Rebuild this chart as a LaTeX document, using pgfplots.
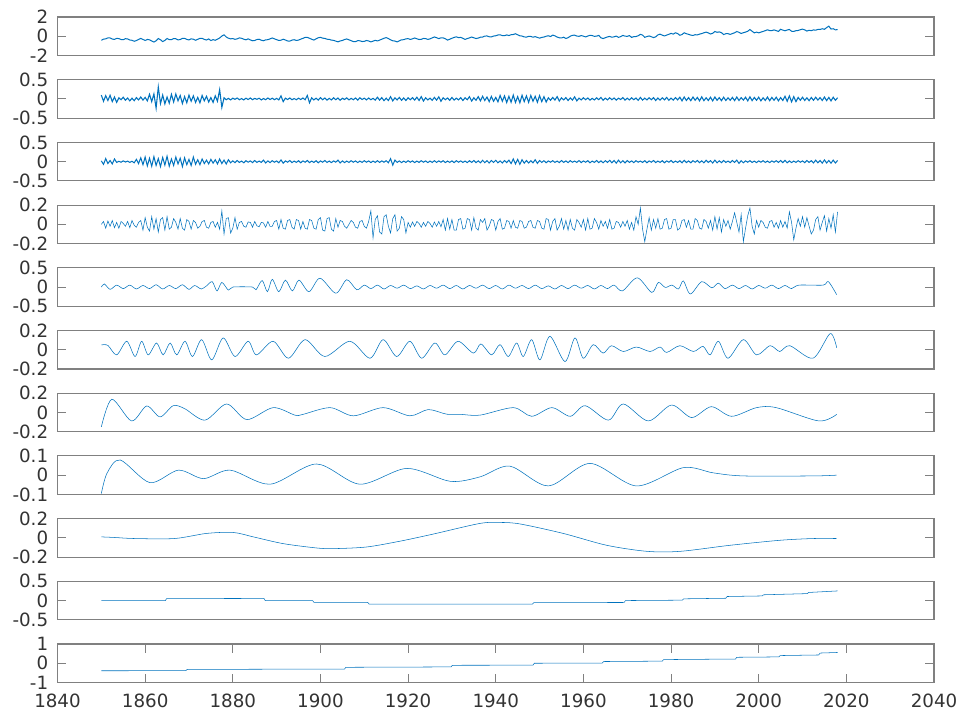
\documentclass[border=0pt]{standalone}
\usepackage{fontspec}
\setmainfont{DejaVu Sans}
\usepackage{pgfplots}
\pgfplotsset{compat=1.18}
\definecolor{mline}{RGB}{0,114,189}
\definecolor{axgray}{gray}{0.5}
\definecolor{txtgray}{gray}{0.2}
\newlength\pxu
\setlength\pxu{0.75pt}
\pgfplotsset{
 emd/.style={
   scale only axis, width=876.5\pxu, height=38.5\pxu,
   xmin=1840, xmax=2040, anchor=north west,
   axis line style={axgray, line width=0.8pt},
   tick style={axgray, line width=0.8pt},
   major tick length=6.5pt, tick align=inside,
   xtick=\empty,
   yticklabel style={font=\fontsize{13.7}{16}\selectfont, text=txtgray, inner sep=0pt, anchor=east, xshift=-6.8pt},
   xticklabel style={font=\fontsize{13.7}{16}\selectfont, text=txtgray, inner sep=0pt, anchor=north, yshift=-8.5pt},
   cycle list={{mline, mark=none, line width=0.55pt}},
 }
}
\begin{document}
\begin{tikzpicture}
\path[use as bounding box] (0,0) rectangle (960\pxu,-713\pxu);
% 1 original
\begin{axis}[emd, at={(57.5\pxu,-17\pxu)}, ymin=-2, ymax=2, ytick={-2,0,2}, yticklabels={-2,0,2}]
\addplot+[line width=0.75pt] coordinates {(1850,-0.42)(1850.5,-0.30)(1851,-0.27)(1851.5,-0.17)(1852,-0.18)(1852.5,-0.29)(1853,-0.33)(1853.5,-0.22)(1854,-0.24)(1854.5,-0.34)(1855,-0.36)(1855.5,-0.25)(1856,-0.28)(1856.5,-0.39)(1857,-0.42)(1857.5,-0.52)(1858,-0.45)(1858.5,-0.33)(1859,-0.22)(1859.5,-0.33)(1860,-0.44)(1860.5,-0.33)(1861,-0.37)(1861.5,-0.49)(1862,-0.60)(1862.5,-0.47)(1863,-0.24)(1863.5,-0.36)(1864,-0.56)(1864.5,-0.43)(1865,-0.23)(1865.5,-0.35)(1866,-0.36)(1866.5,-0.24)(1867,-0.26)(1867.5,-0.38)(1868,-0.34)(1868.5,-0.22)(1869,-0.22)(1869.5,-0.33)(1870,-0.38)(1870.5,-0.27)(1871,-0.31)(1871.5,-0.42)(1872,-0.32)(1872.5,-0.21)(1873,-0.21)(1873.5,-0.33)(1874,-0.39)(1874.5,-0.28)(1875,-0.45)(1875.5,-0.35)(1876,-0.42)(1876.5,-0.30)(1877,-0.18)(1877.5,0.02)(1878,0.15)(1878.5,-0.08)(1879,-0.20)(1879.5,-0.27)(1880,-0.24)(1880.5,-0.32)(1881,-0.27)(1881.5,-0.17)(1882,-0.21)(1882.5,-0.31)(1883,-0.37)(1883.5,-0.27)(1884,-0.38)(1884.5,-0.47)(1885,-0.44)(1885.5,-0.34)(1886,-0.31)(1886.5,-0.41)(1887,-0.47)(1887.5,-0.37)(1888,-0.36)(1888.5,-0.27)(1889,-0.18)(1889.5,-0.27)(1890,-0.35)(1890.5,-0.44)(1891,-0.41)(1891.5,-0.31)(1892,-0.39)(1892.5,-0.49)(1893,-0.51)(1893.5,-0.40)(1894,-0.36)(1894.5,-0.44)(1895,-0.40)(1895.5,-0.30)(1896,-0.22)(1896.5,-0.12)(1897,-0.12)(1897.5,-0.21)(1898,-0.31)(1898.5,-0.40)(1899,-0.27)(1899.5,-0.16)(1900,-0.11)(1900.5,-0.20)(1901,-0.22)(1901.5,-0.31)(1902,-0.32)(1902.5,-0.41)(1903,-0.42)(1903.5,-0.51)(1904,-0.58)(1904.5,-0.49)(1905,-0.44)(1905.5,-0.34)(1906,-0.28)(1906.5,-0.37)(1907,-0.46)(1907.5,-0.55)(1908,-0.56)(1908.5,-0.46)(1909,-0.47)(1909.5,-0.55)(1910,-0.53)(1910.5,-0.44)(1911,-0.49)(1911.5,-0.59)(1912,-0.51)(1912.5,-0.42)(1913,-0.49)(1913.5,-0.40)(1914,-0.31)(1914.5,-0.21)(1915,-0.14)(1915.5,-0.24)(1916,-0.37)(1916.5,-0.47)(1917,-0.50)(1917.5,-0.59)(1918,-0.47)(1918.5,-0.37)(1919,-0.36)(1919.5,-0.27)(1920,-0.25)(1920.5,-0.33)(1921,-0.27)(1921.5,-0.18)(1922,-0.26)(1922.5,-0.34)(1923,-0.32)(1923.5,-0.23)(1924,-0.24)(1924.5,-0.33)(1925,-0.27)(1925.5,-0.17)(1926,-0.07)(1926.5,-0.15)(1927,-0.25)(1927.5,-0.16)(1928,-0.17)(1928.5,-0.26)(1929,-0.40)(1929.5,-0.31)(1930,-0.21)(1930.5,-0.12)(1931,-0.06)(1931.5,-0.14)(1932,-0.12)(1932.5,-0.21)(1933,-0.33)(1933.5,-0.24)(1934,-0.17)(1934.5,-0.08)(1935,-0.16)(1935.5,-0.24)(1936,-0.19)(1936.5,-0.10)(1937,-0.08)(1937.5,0.02)(1938,0.03)(1938.5,-0.05)(1939,-0.07)(1939.5,0.02)(1940,0.05)(1940.5,0.13)(1941,0.15)(1941.5,0.07)(1942,0.06)(1942.5,0.14)(1943,0.07)(1943.5,0.16)(1944,0.18)(1944.5,0.26)(1945,0.15)(1945.5,0.05)(1946,0.02)(1946.5,-0.07)(1947,-0.09)(1947.5,-0.01)(1948,-0.02)(1948.5,-0.10)(1949,-0.04)(1949.5,-0.12)(1950,-0.20)(1950.5,-0.12)(1951,-0.08)(1951.5,0.00)(1952,0.05)(1952.5,-0.03)(1953,0.12)(1953.5,0.04)(1954,-0.08)(1954.5,-0.16)(1955,-0.18)(1955.5,-0.10)(1956,-0.23)(1956.5,-0.15)(1957,0.00)(1957.5,0.10)(1958,0.11)(1958.5,0.02)(1959,-0.01)(1959.5,0.07)(1960,0.01)(1960.5,-0.07)(1961,0.02)(1961.5,0.10)(1962,0.07)(1962.5,-0.01)(1963,0.01)(1963.5,0.09)(1964,-0.16)(1964.5,-0.24)(1965,-0.15)(1965.5,-0.07)(1966,-0.02)(1966.5,-0.10)(1967,-0.06)(1967.5,0.02)(1968,-0.12)(1968.5,-0.04)(1969,0.09)(1969.5,0.01)(1970,-0.01)(1970.5,0.07)(1971,-0.12)(1971.5,-0.04)(1972,-0.03)(1972.5,0.05)(1973,0.20)(1973.5,0.12)(1974,-0.11)(1974.5,-0.03)(1975,0.03)(1975.5,-0.05)(1976,-0.14)(1976.5,-0.06)(1977,0.14)(1977.5,0.22)(1978,0.11)(1978.5,0.03)(1979,0.12)(1979.5,0.20)(1980,0.30)(1980.5,0.22)(1981,0.36)(1981.5,0.28)(1982,0.10)(1982.5,0.18)(1983,0.36)(1983.5,0.26)(1984,0.20)(1984.5,0.12)(1985,0.08)(1985.5,0.16)(1986,0.14)(1986.5,0.22)(1987,0.28)(1987.5,0.36)(1988,0.43)(1988.5,0.35)(1989,0.23)(1989.5,0.31)(1990,0.49)(1990.5,0.41)(1991,0.45)(1991.5,0.37)(1992,0.18)(1992.5,0.26)(1993,0.27)(1993.5,0.19)(1994,0.28)(1994.5,0.36)(1995,0.49)(1995.5,0.41)(1996,0.29)(1996.5,0.37)(1997,0.43)(1997.5,0.52)(1998,0.70)(1998.5,0.52)(1999,0.35)(1999.5,0.43)(2000,0.35)(2000.5,0.43)(2001,0.50)(2001.5,0.58)(2002,0.67)(2002.5,0.59)(2003,0.58)(2003.5,0.66)(2004,0.58)(2004.5,0.50)(2005,0.72)(2005.5,0.64)(2006,0.57)(2006.5,0.65)(2007,0.70)(2007.5,0.52)(2008,0.50)(2008.5,0.58)(2009,0.60)(2009.5,0.68)(2010,0.74)(2010.5,0.66)(2011,0.54)(2011.5,0.62)(2012,0.58)(2012.5,0.66)(2013,0.63)(2013.5,0.71)(2014,0.70)(2014.5,0.78)(2015,0.72)(2015.5,0.90)(2016,1.05)(2016.5,0.75)(2017,0.78)(2017.5,0.66)(2018,0.70)};
\end{axis}
% 2 IMF1
\begin{axis}[emd, at={(57.5\pxu,-79.7\pxu)}, ymin=-0.5, ymax=0.5, ytick={-0.5,0,0.5}, yticklabels={-0.5,0,0.5}]
\addplot+[line width=0.8pt] coordinates {(1850,0.10)(1850.5,-0.06)(1851,0.085)(1851.5,-0.04)(1852,0.095)(1852.5,-0.07)(1853,0.05)(1853.5,-0.09)(1854,0.03)(1854.5,-0.02)(1855,0.045)(1855.5,-0.035)(1856,0.025)(1856.5,-0.05)(1857,0.02)(1857.5,-0.045)(1858,0.035)(1858.5,-0.025)(1859,0.05)(1859.5,-0.03)(1860,0.04)(1860.5,-0.05)(1861,0.12)(1861.5,-0.07)(1862,0.13)(1862.5,-0.24)(1863,0.31)(1863.5,-0.12)(1864,0.10)(1864.5,-0.13)(1865,0.05)(1865.5,-0.11)(1866,0.12)(1866.5,-0.08)(1867,0.13)(1867.5,-0.05)(1868,0.09)(1868.5,-0.12)(1869,0.06)(1869.5,-0.10)(1870,0.10)(1870.5,-0.06)(1871,0.08)(1871.5,-0.09)(1872,0.04)(1872.5,-0.10)(1873,0.09)(1873.5,-0.05)(1874,0.07)(1874.5,-0.08)(1875,0.035)(1875.5,-0.09)(1876,0.08)(1876.5,-0.06)(1877,0.24)(1877.5,-0.22)(1878,0.03)(1878.5,-0.02)(1879,0.015)(1879.5,-0.025)(1880,0.02)(1880.5,-0.01)(1881,0.025)(1881.5,-0.02)(1882,0.01)(1882.5,-0.025)(1883,0.02)(1883.5,-0.015)(1884,0.025)(1884.5,-0.02)(1885,0.015)(1885.5,-0.01)(1886,0.02)(1886.5,-0.025)(1887,0.01)(1887.5,-0.02)(1888,0.025)(1888.5,-0.015)(1889,0.02)(1889.5,-0.02)(1890,0.015)(1890.5,-0.025)(1891,0.08)(1891.5,-0.07)(1892,0.02)(1892.5,-0.015)(1893,0.025)(1893.5,-0.02)(1894,0.01)(1894.5,-0.02)(1895,0.02)(1895.5,-0.015)(1896,0.025)(1896.5,-0.02)(1897,0.09)(1897.5,-0.10)(1898,0.03)(1898.5,-0.025)(1899,0.02)(1899.5,-0.03)(1900,0.035)(1900.5,-0.02)(1901,0.025)(1901.5,-0.03)(1902,0.015)(1902.5,-0.025)(1903,0.03)(1903.5,-0.02)(1904,0.025)(1904.5,-0.035)(1905,0.02)(1905.5,-0.015)(1906,0.03)(1906.5,-0.025)(1907,0.015)(1907.5,-0.02)(1908,0.025)(1908.5,-0.03)(1909,0.03)(1909.5,-0.015)(1910,0.02)(1910.5,-0.025)(1911,0.025)(1911.5,-0.02)(1912,0.015)(1912.5,-0.03)(1913,0.045)(1913.5,-0.03)(1914,0.035)(1914.5,-0.045)(1915,0.02)(1915.5,-0.04)(1916,0.06)(1916.5,-0.05)(1917,0.03)(1917.5,-0.025)(1918,0.04)(1918.5,-0.035)(1919,0.025)(1919.5,-0.04)(1920,0.03)(1920.5,-0.02)(1921,0.035)(1921.5,-0.03)(1922,0.045)(1922.5,-0.04)(1923,0.06)(1923.5,-0.055)(1924,0.03)(1924.5,-0.025)(1925,0.02)(1925.5,-0.035)(1926,0.04)(1926.5,-0.03)(1927,0.055)(1927.5,-0.06)(1928,0.03)(1928.5,-0.02)(1929,0.025)(1929.5,-0.035)(1930,0.04)(1930.5,-0.03)(1931,0.02)(1931.5,-0.025)(1932,0.035)(1932.5,-0.04)(1933,0.03)(1933.5,-0.02)(1934,0.06)(1934.5,-0.055)(1935,0.03)(1935.5,-0.035)(1936,0.06)(1936.5,-0.05)(1937,0.07)(1937.5,-0.04)(1938,0.05)(1938.5,-0.07)(1939,0.065)(1939.5,-0.06)(1940,0.04)(1940.5,-0.075)(1941,0.09)(1941.5,-0.06)(1942,0.08)(1942.5,-0.095)(1943,0.07)(1943.5,-0.085)(1944,0.10)(1944.5,-0.09)(1945,0.06)(1945.5,-0.10)(1946,0.095)(1946.5,-0.07)(1947,0.08)(1947.5,-0.09)(1948,0.09)(1948.5,-0.06)(1949,0.07)(1949.5,-0.085)(1950,0.085)(1950.5,-0.07)(1951,0.06)(1951.5,-0.08)(1952,0.03)(1952.5,-0.035)(1953,0.04)(1953.5,-0.03)(1954,0.06)(1954.5,-0.055)(1955,0.03)(1955.5,-0.025)(1956,0.035)(1956.5,-0.04)(1957,0.025)(1957.5,-0.03)(1958,0.055)(1958.5,-0.05)(1959,0.02)(1959.5,-0.025)(1960,0.03)(1960.5,-0.02)(1961,0.025)(1961.5,-0.03)(1962,0.015)(1962.5,-0.025)(1963,0.03)(1963.5,-0.02)(1964,0.04)(1964.5,-0.035)(1965,0.02)(1965.5,-0.025)(1966,0.03)(1966.5,-0.02)(1967,0.025)(1967.5,-0.03)(1968,0.02)(1968.5,-0.015)(1969,0.035)(1969.5,-0.03)(1970,0.02)(1970.5,-0.025)(1971,0.03)(1971.5,-0.02)(1972,0.025)(1972.5,-0.035)(1973,0.04)(1973.5,-0.03)(1974,0.02)(1974.5,-0.025)(1975,0.03)(1975.5,-0.02)(1976,0.035)(1976.5,-0.04)(1977,0.025)(1977.5,-0.03)(1978,0.03)(1978.5,-0.025)(1979,0.04)(1979.5,-0.035)(1980,0.02)(1980.5,-0.03)(1981,0.035)(1981.5,-0.025)(1982,0.045)(1982.5,-0.05)(1983,0.05)(1983.5,-0.04)(1984,0.035)(1984.5,-0.045)(1985,0.05)(1985.5,-0.035)(1986,0.04)(1986.5,-0.05)(1987,0.055)(1987.5,-0.045)(1988,0.03)(1988.5,-0.04)(1989,0.045)(1989.5,-0.05)(1990,0.05)(1990.5,-0.035)(1991,0.035)(1991.5,-0.045)(1992,0.045)(1992.5,-0.04)(1993,0.03)(1993.5,-0.035)(1994,0.04)(1994.5,-0.045)(1995,0.05)(1995.5,-0.04)(1996,0.035)(1996.5,-0.03)(1997,0.045)(1997.5,-0.05)(1998,0.055)(1998.5,-0.045)(1999,0.04)(1999.5,-0.035)(2000,0.045)(2000.5,-0.05)(2001,0.03)(2001.5,-0.04)(2002,0.05)(2002.5,-0.045)(2003,0.04)(2003.5,-0.035)(2004,0.045)(2004.5,-0.05)(2005,0.035)(2005.5,-0.04)(2006,0.07)(2006.5,-0.06)(2007,0.08)(2007.5,-0.075)(2008,0.06)(2008.5,-0.07)(2009,0.04)(2009.5,-0.035)(2010,0.045)(2010.5,-0.04)(2011,0.03)(2011.5,-0.045)(2012,0.04)(2012.5,-0.035)(2013,0.045)(2013.5,-0.03)(2014,0.035)(2014.5,-0.04)(2015,0.05)(2015.5,-0.045)(2016,0.04)(2016.5,-0.05)(2017,0.045)(2017.5,-0.035)(2018,0.03)};
\end{axis}
% 3 IMF2
\begin{axis}[emd, at={(57.5\pxu,-142.4\pxu)}, ymin=-0.5, ymax=0.5, ytick={-0.5,0,0.5}, yticklabels={-0.5,0,0.5}]
\addplot+[line width=0.75pt] coordinates {(1850,0.02)(1850.5,-0.07)(1851,0.08)(1851.5,-0.05)(1852,0.03)(1852.5,-0.06)(1853,0.07)(1853.5,-0.02)(1854,0.01)(1854.5,-0.015)(1855,0.02)(1855.5,-0.01)(1856,0.015)(1856.5,-0.02)(1857,0.01)(1857.5,-0.03)(1858,0.06)(1858.5,-0.05)(1859,0.10)(1859.5,-0.08)(1860,0.12)(1860.5,-0.11)(1861,0.09)(1861.5,-0.12)(1862,0.13)(1862.5,-0.10)(1863,0.08)(1863.5,-0.13)(1864,0.11)(1864.5,-0.09)(1865,0.14)(1865.5,-0.12)(1866,0.07)(1866.5,-0.10)(1867,0.12)(1867.5,-0.06)(1868,0.09)(1868.5,-0.13)(1869,0.10)(1869.5,-0.08)(1870,0.06)(1870.5,-0.10)(1871,0.12)(1871.5,-0.07)(1872,0.05)(1872.5,-0.08)(1873,0.07)(1873.5,-0.05)(1874,0.04)(1874.5,-0.06)(1875,0.06)(1875.5,-0.04)(1876,0.05)(1876.5,-0.06)(1877,0.07)(1877.5,-0.05)(1878,0.04)(1878.5,-0.06)(1879,0.05)(1879.5,-0.03)(1880,0.02)(1880.5,-0.025)(1881,0.03)(1881.5,-0.02)(1882,0.015)(1882.5,-0.03)(1883,0.025)(1883.5,-0.015)(1884,0.02)(1884.5,-0.025)(1885,0.03)(1885.5,-0.02)(1886,0.015)(1886.5,-0.02)(1887,0.04)(1887.5,-0.035)(1888,0.02)(1888.5,-0.025)(1889,0.025)(1889.5,-0.015)(1890,0.02)(1890.5,-0.03)(1891,0.045)(1891.5,-0.04)(1892,0.02)(1892.5,-0.015)(1893,0.03)(1893.5,-0.025)(1894,0.015)(1894.5,-0.02)(1895,0.025)(1895.5,-0.03)(1896,0.02)(1896.5,-0.015)(1897,0.03)(1897.5,-0.025)(1898,0.015)(1898.5,-0.02)(1899,0.025)(1899.5,-0.03)(1900,0.02)(1900.5,-0.015)(1901,0.03)(1901.5,-0.02)(1902,0.015)(1902.5,-0.025)(1903,0.02)(1903.5,-0.015)(1904,0.04)(1904.5,-0.035)(1905,0.02)(1905.5,-0.025)(1906,0.015)(1906.5,-0.02)(1907,0.025)(1907.5,-0.015)(1908,0.02)(1908.5,-0.025)(1909,0.015)(1909.5,-0.02)(1910,0.025)(1910.5,-0.015)(1911,0.02)(1911.5,-0.025)(1912,0.015)(1912.5,-0.02)(1913,0.025)(1913.5,-0.02)(1914,0.02)(1914.5,-0.015)(1915,0.025)(1915.5,-0.03)(1916,0.08)(1916.5,-0.09)(1917,0.04)(1917.5,-0.02)(1918,0.02)(1918.5,-0.025)(1919,0.015)(1919.5,-0.02)(1920,0.025)(1920.5,-0.015)(1921,0.02)(1921.5,-0.025)(1922,0.015)(1922.5,-0.02)(1923,0.025)(1923.5,-0.015)(1924,0.02)(1924.5,-0.025)(1925,0.015)(1925.5,-0.02)(1926,0.025)(1926.5,-0.02)(1927,0.02)(1927.5,-0.015)(1928,0.025)(1928.5,-0.025)(1929,0.015)(1929.5,-0.02)(1930,0.02)(1930.5,-0.025)(1931,0.025)(1931.5,-0.015)(1932,0.02)(1932.5,-0.02)(1933,0.015)(1933.5,-0.025)(1934,0.025)(1934.5,-0.02)(1935,0.03)(1935.5,-0.025)(1936,0.02)(1936.5,-0.03)(1937,0.035)(1937.5,-0.025)(1938,0.025)(1938.5,-0.035)(1939,0.03)(1939.5,-0.02)(1940,0.035)(1940.5,-0.03)(1941,0.02)(1941.5,-0.035)(1942,0.03)(1942.5,-0.025)(1943,0.04)(1943.5,-0.05)(1944,0.07)(1944.5,-0.06)(1945,0.06)(1945.5,-0.07)(1946,0.05)(1946.5,-0.04)(1947,0.03)(1947.5,-0.035)(1948,0.025)(1948.5,-0.03)(1949,0.05)(1949.5,-0.045)(1950,0.03)(1950.5,-0.02)(1951,0.025)(1951.5,-0.03)(1952,0.02)(1952.5,-0.015)(1953,0.025)(1953.5,-0.02)(1954,0.015)(1954.5,-0.025)(1955,0.03)(1955.5,-0.02)(1956,0.02)(1956.5,-0.025)(1957,0.025)(1957.5,-0.015)(1958,0.015)(1958.5,-0.02)(1959,0.03)(1959.5,-0.025)(1960,0.02)(1960.5,-0.015)(1961,0.025)(1961.5,-0.03)(1962,0.015)(1962.5,-0.02)(1963,0.03)(1963.5,-0.025)(1964,0.02)(1964.5,-0.03)(1965,0.025)(1965.5,-0.02)(1966,0.035)(1966.5,-0.03)(1967,0.03)(1967.5,-0.04)(1968,0.04)(1968.5,-0.03)(1969,0.025)(1969.5,-0.035)(1970,0.03)(1970.5,-0.02)(1971,0.02)(1971.5,-0.025)(1972,0.025)(1972.5,-0.015)(1973,0.015)(1973.5,-0.02)(1974,0.025)(1974.5,-0.03)(1975,0.02)(1975.5,-0.015)(1976,0.03)(1976.5,-0.025)(1977,0.015)(1977.5,-0.02)(1978,0.025)(1978.5,-0.03)(1979,0.02)(1979.5,-0.015)(1980,0.03)(1980.5,-0.025)(1981,0.015)(1981.5,-0.02)(1982,0.025)(1982.5,-0.03)(1983,0.035)(1983.5,-0.025)(1984,0.02)(1984.5,-0.03)(1985,0.025)(1985.5,-0.015)(1986,0.03)(1986.5,-0.025)(1987,0.02)(1987.5,-0.03)(1988,0.035)(1988.5,-0.02)(1989,0.025)(1989.5,-0.035)(1990,0.04)(1990.5,-0.03)(1991,0.02)(1991.5,-0.025)(1992,0.03)(1992.5,-0.02)(1993,0.015)(1993.5,-0.025)(1994,0.03)(1994.5,-0.02)(1995,0.04)(1995.5,-0.045)(1996,0.025)(1996.5,-0.03)(1997,0.02)(1997.5,-0.015)(1998,0.025)(1998.5,-0.02)(1999,0.015)(1999.5,-0.025)(2000,0.02)(2000.5,-0.015)(2001,0.025)(2001.5,-0.02)(2002,0.015)(2002.5,-0.025)(2003,0.02)(2003.5,-0.015)(2004,0.025)(2004.5,-0.02)(2005,0.03)(2005.5,-0.025)(2006,0.035)(2006.5,-0.03)(2007,0.02)(2007.5,-0.025)(2008,0.015)(2008.5,-0.02)(2009,0.025)(2009.5,-0.015)(2010,0.02)(2010.5,-0.025)(2011,0.03)(2011.5,-0.02)(2012,0.025)(2012.5,-0.035)(2013,0.04)(2013.5,-0.03)(2014,0.03)(2014.5,-0.04)(2015,0.045)(2015.5,-0.035)(2016,0.03)(2016.5,-0.04)(2017,0.04)(2017.5,-0.035)(2018,0.03)};
\end{axis}
% 4 IMF3
\begin{axis}[emd, at={(57.5\pxu,-205.1\pxu)}, ymin=-0.2, ymax=0.2, ytick={-0.2,0,0.2}, yticklabels={-0.2,0,0.2}]
\addplot coordinates {(1850,0.0)(1850.5,0.03)(1851,-0.04)(1851.5,0.035)(1852,-0.02)(1852.5,0.04)(1853,-0.035)(1853.5,0.02)(1854,-0.04)(1854.5,0.03)(1855,0.01)(1855.5,-0.02)(1856,0.03)(1856.5,-0.035)(1857,0.04)(1857.5,-0.01)(1858,-0.03)(1858.5,0.02)(1859,0.04)(1859.5,-0.06)(1860,0.07)(1860.5,-0.03)(1861,-0.07)(1861.5,0.08)(1862,-0.05)(1862.5,0.06)(1863,-0.08)(1863.5,0.05)(1864,0.07)(1864.5,-0.06)(1865,0.08)(1865.5,-0.05)(1866,-0.03)(1866.5,0.06)(1867,0.02)(1867.5,-0.05)(1868,0.06)(1868.5,-0.04)(1869,-0.06)(1869.5,0.05)(1870,0.03)(1870.5,-0.05)(1871,0.04)(1871.5,0.02)(1872,-0.04)(1872.5,-0.02)(1873,0.03)(1873.5,0.04)(1874,-0.03)(1874.5,-0.04)(1875,0.02)(1875.5,0.03)(1876,-0.03)(1876.5,0.02)(1877,-0.05)(1877.5,0.14)(1878,-0.10)(1878.5,0.06)(1879,0.07)(1879.5,-0.09)(1880,-0.04)(1880.5,0.07)(1881,-0.05)(1881.5,0.02)(1882,0.03)(1882.5,-0.02)(1883,-0.03)(1883.5,0.025)(1884,0.02)(1884.5,-0.03)(1885,0.03)(1885.5,-0.015)(1886,-0.025)(1886.5,0.02)(1887,0.015)(1887.5,-0.03)(1888,0.03)(1888.5,-0.02)(1889,-0.02)(1889.5,0.03)(1890,0.04)(1890.5,-0.05)(1891,0.05)(1891.5,-0.04)(1892,-0.05)(1892.5,0.04)(1893,0.05)(1893.5,-0.03)(1894,-0.05)(1894.5,0.05)(1895,0.04)(1895.5,-0.05)(1896,0.03)(1896.5,-0.04)(1897,-0.05)(1897.5,0.05)(1898,0.04)(1898.5,-0.04)(1899,-0.05)(1899.5,0.05)(1900,0.07)(1900.5,-0.06)(1901,-0.07)(1901.5,0.06)(1902,0.07)(1902.5,-0.05)(1903,-0.07)(1903.5,0.06)(1904,-0.03)(1904.5,0.04)(1905,0.03)(1905.5,-0.02)(1906,-0.04)(1906.5,0.0)(1907,0.04)(1907.5,0.02)(1908,-0.03)(1908.5,-0.04)(1909,0.03)(1909.5,0.04)(1910,-0.02)(1910.5,-0.04)(1911,0.03)(1911.5,0.14)(1912,-0.14)(1912.5,0.05)(1913,0.09)(1913.5,-0.08)(1914,-0.10)(1914.5,0.08)(1915,0.10)(1915.5,-0.02)(1916,-0.09)(1916.5,0.06)(1917,0.10)(1917.5,-0.07)(1918,-0.04)(1918.5,0.08)(1919,0.05)(1919.5,-0.09)(1920,0.02)(1920.5,-0.03)(1921,0.025)(1921.5,-0.02)(1922,0.03)(1922.5,0.01)(1923,-0.03)(1923.5,0.02)(1924,-0.02)(1924.5,0.03)(1925,0.01)(1925.5,-0.03)(1926,0.025)(1926.5,-0.02)(1927,0.03)(1927.5,-0.025)(1928,0.05)(1928.5,-0.06)(1929,0.06)(1929.5,-0.05)(1930,0.05)(1930.5,-0.06)(1931,-0.06)(1931.5,0.05)(1932,0.06)(1932.5,-0.05)(1933,-0.04)(1933.5,0.06)(1934,0.05)(1934.5,-0.06)(1935,0.07)(1935.5,-0.04)(1936,-0.06)(1936.5,0.05)(1937,0.02)(1937.5,0.06)(1938,-0.06)(1938.5,-0.02)(1939,0.05)(1939.5,0.04)(1940,-0.06)(1940.5,0.03)(1941,0.06)(1941.5,-0.05)(1942,-0.04)(1942.5,0.04)(1943,0.03)(1943.5,-0.04)(1944,0.04)(1944.5,-0.03)(1945,-0.04)(1945.5,0.04)(1946,0.03)(1946.5,-0.04)(1947,-0.03)(1947.5,0.03)(1948,0.04)(1948.5,-0.03)(1949,-0.04)(1949.5,0.04)(1950,0.03)(1950.5,-0.04)(1951,-0.05)(1951.5,0.06)(1952,0.05)(1952.5,-0.06)(1953,0.03)(1953.5,0.06)(1954,-0.06)(1954.5,-0.02)(1955,0.06)(1955.5,-0.05)(1956,0.04)(1956.5,-0.06)(1957,0.05)(1957.5,-0.04)(1958,-0.06)(1958.5,0.05)(1959,0.02)(1959.5,-0.03)(1960,0.05)(1960.5,-0.06)(1961,0.06)(1961.5,-0.05)(1962,-0.04)(1962.5,0.06)(1963,0.02)(1963.5,-0.05)(1964,0.04)(1964.5,-0.02)(1965,0.03)(1965.5,-0.04)(1966,0.05)(1966.5,-0.05)(1967,-0.04)(1967.5,0.03)(1968,0.02)(1968.5,-0.03)(1969,0.03)(1969.5,-0.02)(1970,0.04)(1970.5,-0.05)(1971,0.02)(1971.5,-0.06)(1972,0.08)(1972.5,0.0)(1973,0.17)(1973.5,-0.05)(1974,-0.18)(1974.5,-0.05)(1975,0.07)(1975.5,-0.06)(1976,0.05)(1976.5,-0.04)(1977,0.06)(1977.5,-0.05)(1978,-0.04)(1978.5,0.05)(1979,0.06)(1979.5,-0.05)(1980,-0.04)(1980.5,0.05)(1981,0.05)(1981.5,-0.06)(1982,-0.04)(1982.5,0.04)(1983,0.05)(1983.5,-0.03)(1984,0.04)(1984.5,-0.05)(1985,-0.05)(1985.5,0.06)(1986,0.04)(1986.5,-0.04)(1987,-0.05)(1987.5,0.05)(1988,0.03)(1988.5,-0.04)(1989,0.04)(1989.5,-0.06)(1990,0.08)(1990.5,-0.05)(1991,0.07)(1991.5,-0.08)(1992,0.05)(1992.5,-0.02)(1993,0.04)(1993.5,-0.05)(1994,0.03)(1994.5,0.12)(1995,0.02)(1995.5,-0.08)(1996,0.10)(1996.5,-0.18)(1997,-0.04)(1997.5,0.09)(1998,0.17)(1998.5,-0.02)(1999,-0.10)(1999.5,0.04)(2000,-0.03)(2000.5,0.04)(2001,0.02)(2001.5,-0.03)(2002,-0.04)(2002.5,0.03)(2003,0.04)(2003.5,-0.03)(2004,0.02)(2004.5,-0.04)(2005,0.04)(2005.5,-0.03)(2006,0.03)(2006.5,-0.04)(2007,0.13)(2007.5,0.02)(2008,-0.16)(2008.5,-0.04)(2009,0.06)(2009.5,-0.02)(2010,0.08)(2010.5,-0.03)(2011,0.07)(2011.5,-0.02)(2012,-0.10)(2012.5,-0.06)(2013,0.05)(2013.5,0.08)(2014,-0.06)(2014.5,0.02)(2015,0.09)(2015.5,-0.07)(2016,0.06)(2016.5,-0.04)(2017,0.10)(2017.5,-0.08)(2018,0.13)};
\end{axis}
% 5 IMF4
\begin{axis}[emd, at={(57.5\pxu,-267.8\pxu)}, ymin=-0.5, ymax=0.5, ytick={-0.5,0,0.5}, yticklabels={-0.5,0,0.5}]
\addplot+[smooth] coordinates {(1850,0.0)(1850.7,0.08)(1852,-0.06)(1853.5,0.05)(1855,-0.04)(1856.5,0.05)(1858,-0.05)(1859.5,0.04)(1861,-0.04)(1862.5,0.06)(1864,-0.05)(1865.5,0.04)(1867,-0.04)(1868.5,0.06)(1870,-0.06)(1871.3,0.04)(1872.8,-0.05)(1874,0.03)(1875.3,0.14)(1876.4,-0.10)(1877.5,0.12)(1879,-0.08)(1880,0.0)(1884.5,0.0)(1885.3,-0.07)(1886.7,0.17)(1887.9,-0.12)(1889,0.20)(1890.5,-0.12)(1892,0.18)(1893.6,-0.10)(1895.1,0.18)(1897.4,-0.12)(1899.9,0.23)(1903.5,-0.16)(1906,0.19)(1908.3,-0.07)(1910,0.05)(1911.5,-0.04)(1913,0.05)(1914.5,-0.05)(1916,0.04)(1917.5,-0.03)(1919,0.05)(1920.5,-0.04)(1922,0.03)(1923.5,-0.05)(1925,0.04)(1926.5,-0.03)(1928,0.05)(1929.5,-0.04)(1931,0.04)(1932.5,-0.05)(1934,0.04)(1935.5,-0.03)(1937,0.05)(1938.5,-0.04)(1940,0.04)(1941.5,-0.05)(1943,0.05)(1944.5,-0.03)(1946,0.04)(1947.5,-0.04)(1949,0.05)(1950.5,-0.04)(1952,0.03)(1953.5,-0.05)(1955,0.04)(1956.5,-0.04)(1958,0.05)(1959.5,-0.03)(1961,0.04)(1962.5,-0.05)(1964,0.04)(1965.5,-0.04)(1967,0.05)(1968.9,-0.10)(1972.3,0.24)(1975.6,-0.14)(1977.1,0.12)(1978.7,-0.01)(1980.2,0.05)(1981.7,-0.05)(1982.8,0.16)(1984.4,-0.18)(1987,0.14)(1989.3,-0.02)(1990.8,0.10)(1992.3,-0.04)(1994,0.05)(1995.5,-0.04)(1997,0.04)(1998.5,-0.05)(2000,0.04)(2001.5,-0.03)(2003,0.05)(2004.5,-0.04)(2006,0.04)(2007.5,-0.04)(2009.2,0.05)(2014.7,0.05)(2015.9,0.14)(2017.8,-0.20)};
\end{axis}
% 6 IMF5
\begin{axis}[emd, at={(57.5\pxu,-330.5\pxu)}, ymin=-0.2, ymax=0.2, ytick={-0.2,0,0.2}, yticklabels={-0.2,0,0.2}]
\addplot+[smooth] coordinates {(1850,0.05)(1851.5,0.045)(1853.5,-0.053)(1855.8,0.088)(1857.7,-0.07)(1859.2,0.088)(1860.7,-0.053)(1862.6,0.07)(1864.1,-0.053)(1865.7,0.07)(1867.2,-0.053)(1869.1,0.088)(1870.8,-0.07)(1872.9,0.105)(1875.2,-0.105)(1877.8,0.123)(1880.5,-0.07)(1883.5,0.088)(1885.4,-0.053)(1889.2,0.088)(1892.7,-0.088)(1896.5,0.105)(1901,-0.07)(1906.7,0.088)(1911.3,-0.088)(1914.3,0.105)(1917.4,-0.07)(1920.4,0.088)(1923.1,-0.088)(1926.1,0.07)(1928.4,-0.053)(1931.4,0.088)(1934.9,-0.035)(1936.6,0.06)(1939.06,-0.053)(1940.96,0.053)(1942.86,-0.07)(1944.76,0.07)(1946.28,-0.07)(1948.19,0.105)(1950.08,-0.105)(1952.37,0.14)(1955.8,-0.123)(1958.07,0.123)(1959.97,-0.088)(1962.25,0.053)(1964.5,-0.035)(1966.4,0.042)(1969.1,-0.018)(1972.1,0.028)(1975.2,-0.018)(1977.5,0.028)(1979,-0.028)(1982,0.042)(1985.1,-0.018)(1987.3,0.035)(1988.9,-0.053)(1990.8,0.088)(1993,-0.088)(1996.5,0.105)(1999.5,-0.053)(2002.6,0.042)(2004.8,-0.018)(2007.1,0.042)(2012.4,-0.088)(2016.3,0.168)(2017.8,0.02)};
\end{axis}
% 7 IMF6
\begin{axis}[emd, at={(57.5\pxu,-393.2\pxu)}, ymin=-0.2, ymax=0.2, ytick={-0.2,0,0.2}, yticklabels={-0.2,0,0.2}]
\addplot+[smooth] coordinates {(1850,-0.15)(1852.4,0.137)(1856.9,-0.088)(1860.35,0.067)(1863.4,-0.046)(1866.4,0.07)(1869,0.04)(1873.65,-0.08)(1878.6,0.088)(1883.2,-0.074)(1889.2,0.05)(1894.2,-0.028)(1896,-0.02)(1902.2,0.05)(1907.5,-0.035)(1914.3,0.05)(1920.4,-0.035)(1924.6,0.03)(1928.8,-0.018)(1932,-0.02)(1936.4,-0.028)(1944,0.05)(1948.2,-0.04)(1952.8,0.05)(1957,-0.04)(1960.4,0.07)(1965.7,-0.08)(1969.1,0.088)(1974.8,-0.088)(1980.1,0.077)(1984.7,-0.053)(1989.2,0.06)(1993.8,-0.04)(1999.5,0.05)(2004,0.05)(2013.7,-0.088)(2017.8,-0.02)};
\end{axis}
% 8 IMF7
\begin{axis}[emd, at={(57.5\pxu,-455.9\pxu)}, ymin=-0.1, ymax=0.1, ytick={-0.1,0,0.1}, yticklabels={-0.1,0,0.1}]
\addplot+[smooth] coordinates {(1850,-0.096)(1851.3,0.01)(1854.3,0.079)(1861.1,-0.039)(1867.6,0.026)(1873.3,-0.018)(1879.4,0.026)(1888.5,-0.047)(1899.1,0.058)(1909,-0.047)(1919.7,0.035)(1929.6,-0.032)(1936.4,-0.009)(1943.2,0.047)(1952,-0.056)(1961.5,0.061)(1972.1,-0.056)(1982.8,0.039)(1989.6,0.012)(1996.5,-0.004)(2012.4,-0.004)(2017.8,0.0)};
\end{axis}
% 9 IMF8
\begin{axis}[emd, at={(57.5\pxu,-518.6\pxu)}, ymin=-0.2, ymax=0.2, ytick={-0.2,0,0.2}, yticklabels={-0.2,0,0.2}]
\addplot+[smooth] coordinates {(1850,0.01)(1853,0.004)(1857.6,-0.007)(1866.7,-0.007)(1874,0.046)(1880.1,0.056)(1884.7,0.01)(1891.5,-0.06)(1899.1,-0.105)(1902.9,-0.112)(1910.5,-0.095)(1918.1,-0.035)(1925.7,0.039)(1936.4,0.15)(1941,0.16)(1945.6,0.144)(1955.4,0.046)(1965.3,-0.077)(1974.5,-0.14)(1982.1,-0.14)(1993.5,-0.077)(2004.9,-0.025)(2012.5,-0.007)(2017.8,-0.007)};
\end{axis}
% 10 IMF9
\begin{axis}[emd, at={(57.5\pxu,-581.3\pxu)}, ymin=-0.5, ymax=0.5, ytick={-0.5,0,0.5}, yticklabels={-0.5,0,0.5}]
\addplot coordinates {(1850,0.0)(1864.6,0.0)(1864.9,0.05)(1887.1,0.055)(1887.4,0.0)(1898.2,0.0)(1898.5,-0.045)(1910.8,-0.05)(1911.1,-0.09)(1948.4,-0.09)(1948.7,-0.055)(1969.3,-0.05)(1969.6,0.0)(1982.6,0.01)(1982.9,0.045)(1992.5,0.06)(1992.8,0.105)(2000.8,0.12)(2001.1,0.15)(2011.1,0.18)(2011.4,0.21)(2018,0.25)};
\end{axis}
% 11 residual
\begin{axis}[emd, at={(57.5\pxu,-644\pxu)}, ymin=-1, ymax=1, ytick={-1,0,1}, yticklabels={-1,0,1},
  xtick={1840,1860,...,2040}, xticklabels={1840,1860,1880,1900,1920,1940,1960,1980,2000,2020,2040}]
\addplot coordinates {(1850,-0.39)(1869.3,-0.385)(1869.6,-0.32)(1905.5,-0.30)(1905.8,-0.21)(1929.8,-0.19)(1930.1,-0.105)(1948.5,-0.10)(1948.8,0.0)(1964.3,0.01)(1964.6,0.09)(1978.0,0.11)(1978.3,0.19)(1994.7,0.22)(1995.0,0.31)(2004.6,0.33)(2004.9,0.40)(2013.7,0.43)(2014,0.53)(2018,0.56)};
\end{axis}
\end{tikzpicture}
\end{document}
